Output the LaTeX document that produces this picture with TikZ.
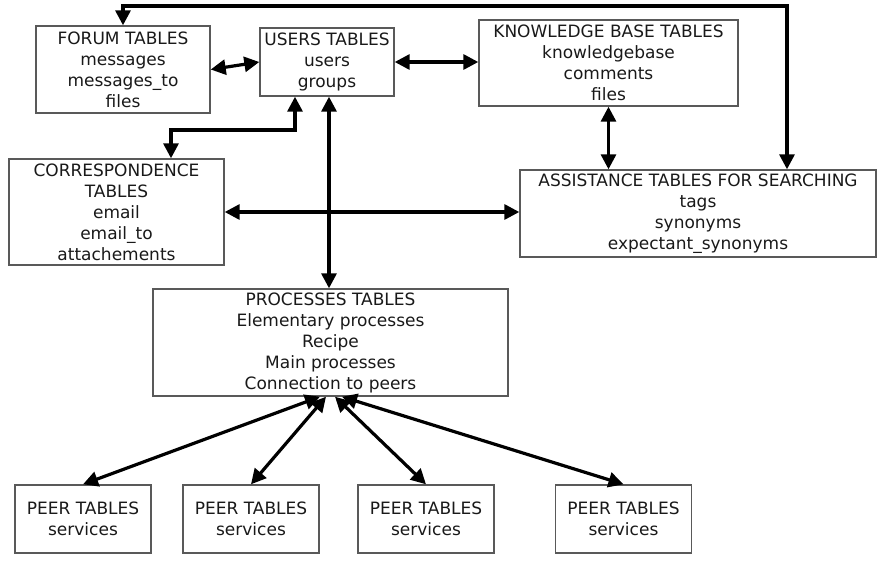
\documentclass[tikz,border=0pt]{standalone}
\usepackage{fontspec}
\setmainfont{DejaVu Sans}
\usetikzlibrary{arrows.meta}
\begin{document}
\begin{tikzpicture}[x=1pt,y=-1pt,
  box/.style={draw=black!65, line width=1.4pt, align=center, inner sep=0pt,
    font=\fontsize{17}{21}\selectfont, text=black!90},
  link/.style={line width=3.2pt,
    {Triangle[length=15pt,width=15pt]}-{Triangle[length=15pt,width=15pt]}}]
\useasboundingbox (0,0) rectangle (878,562);

\node[box, minimum width=174pt, minimum height=87pt] (forum) at (123,69.5)
  {FORUM TABLES\\messages\\messages\_to\\files};
\node[box, minimum width=134pt, minimum height=68pt] (users) at (327,62)
  {USERS TABLES\\users\\groups};
\node[box, minimum width=259pt, minimum height=86pt] (kb) at (608.5,63)
  {KNOWLEDGE BASE TABLES\\knowledgebase\\comments\\files};
\node[box, minimum width=215pt, minimum height=106pt] (corr) at (116.5,212)
  {CORRESPONDENCE\\TABLES\\email\\email\_to\\attachements};
\node[box, minimum width=356pt, minimum height=87pt] (assist) at (698,213.5)
  {ASSISTANCE TABLES FOR SEARCHING\\tags\\synonyms\\expectant\_synonyms};
\node[box, minimum width=355pt, minimum height=107pt] (proc) at (330.5,342.5)
  {PROCESSES TABLES\\Elementary processes\\Recipe\\Main processes\\Connection to peers};
\node[box, minimum width=136pt, minimum height=68pt] (peer1) at (83,519)
  {PEER TABLES\\services};
\node[box, minimum width=136pt, minimum height=68pt] (peer2) at (251,519)
  {PEER TABLES\\services};
\node[box, minimum width=136pt, minimum height=68pt] (peer3) at (426,519)
  {PEER TABLES\\services};
\node[box, minimum width=136pt, minimum height=68pt] (peer4) at (623.5,519)
  {PEER TABLES\\services};

\coordinate (topr) at (787,6);
\coordinate (topl) at (123,6);
\draw[link] (assist.north -| topr) -- (topr) -- (topl) -- (forum.north);

\draw[link] (forum.east) -- (users.west);
\draw[link] (users.east) -- (users.east -| kb.west);

\coordinate (uc1) at (295,130);
\coordinate (uc2) at (171,130);
\draw[link] (users.south -| uc1) -- (uc1) -- (uc2) -- (corr.north -| uc2);

\coordinate (up) at (329,0);
\draw[link] (users.south -| up) -- (proc.north -| up);

\draw[link] (corr.east) -- (corr.east -| assist.west);
\draw[link] (kb.south) -- (kb.south |- assist.north);

\draw[link] ([xshift=-10.5pt]proc.south) -- (peer1.north);
\draw[link] ([xshift=-4.5pt]proc.south) -- (peer2.north);
\draw[link] ([xshift=4.5pt]proc.south) -- (peer3.north);
\draw[link] ([xshift=11.5pt]proc.south) -- (peer4.north);
\end{tikzpicture}
\end{document}
